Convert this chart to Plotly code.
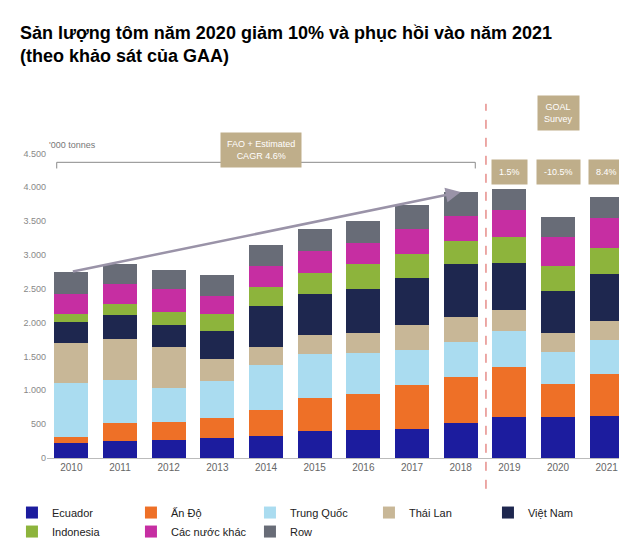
import plotly.graph_objects as go

years = ["2010", "2011", "2012", "2013", "2014", "2015", "2016", "2017", "2018", "2019", "2020", "2021"]
names = ["Ecuador", "Ấn Độ", "Trung Quốc", "Thái Lan", "Việt Nam", "Indonesia", "Các nước khác", "Row"]
colors = ["#1c1c9e", "#ee7027", "#aadcf0", "#c8b797", "#1e274f", "#8db43c", "#c62ea2", "#686c77"]

ecuador = [220, 250, 270, 290, 330, 400, 420, 430, 510, 600, 610, 620]
an_do = [90, 260, 260, 300, 380, 490, 520, 650, 680, 750, 490, 620]
trung_quoc = [800, 640, 510, 550, 660, 640, 610, 510, 530, 520, 460, 510]
thai_lan = [590, 610, 600, 320, 270, 280, 300, 370, 370, 320, 280, 280]
viet_nam = [310, 350, 330, 420, 600, 610, 650, 700, 780, 690, 630, 690]
indonesia = [120, 160, 180, 250, 280, 310, 370, 350, 340, 380, 360, 380]
khac = [300, 300, 340, 260, 310, 330, 300, 380, 370, 400, 430, 450]
row = [320, 300, 290, 320, 310, 320, 330, 350, 350, 320, 300, 310]
series = [ecuador, an_do, trung_quoc, thai_lan, viet_nam, indonesia, khac, row]
growth = ["1.5%", "-10.5%", "8.4%"]

fig = go.Figure()
for n, c, s in zip(names, colors, series):
    fig.add_trace(go.Bar(x=years, y=s, name=n, marker_color=c, marker_line_width=0))

totals = [sum(v) for v in zip(*series)]
grey = "#8a8a8a"
box = "#bfae8a"

fig.update_layout(
    barmode="stack", bargap=0.3, width=627, height=542,
    plot_bgcolor="white", paper_bgcolor="white",
    margin=dict(l=36, r=4, t=142, b=68),
    separators=",.",
    font=dict(family="Arial, Liberation Sans", color="#777"),
    xaxis=dict(tickfont=dict(size=10, color="#666"), showline=True, linecolor="#bbb", ticks=""),
    yaxis=dict(range=[0, 4550], tickvals=[0, 500, 1000, 1500, 2000, 2500, 3000, 3500, 4000, 4500],
               tickformat=",d", tickfont=dict(size=9, color="#888"), showgrid=False, showline=False),
    legend=dict(orientation="h", x=-0.06, y=-0.13, xanchor="left", yanchor="top",
                font=dict(size=11, color="#222"), traceorder="normal", itemwidth=30,
                entrywidth=74, entrywidthmode="pixels", tracegroupgap=0),
    showlegend=True,
)

anns = [
    dict(text="<b>Sản lượng tôm năm 2020 giảm 10% và phục hồi vào năm 2021<br>(theo khảo sát của GAA)</b>",
         xref="paper", yref="paper", x=-0.05, y=1.42, xanchor="left", yanchor="top", align="left",
         showarrow=False, font=dict(size=18, color="black")),
    dict(text="'000 tonnes", xref="paper", yref="paper", x=0.0, y=1.04, xanchor="left",
         showarrow=False, font=dict(size=9, color="#777")),
    dict(text="FAO + Estimated<br>CAGR 4.6%", xref="x", yref="paper", x=3.9, y=1.06,
         showarrow=False, bgcolor=box, font=dict(size=9, color="white"), borderpad=6),
    dict(text="GOAL<br>Survey", xref="x", yref="paper", x=10, y=1.18,
         showarrow=False, bgcolor=box, font=dict(size=9, color="white"), borderpad=6),
    dict(x=8, y=totals[8], ax=0, ay=totals[0], xref="x", yref="y", axref="x", ayref="y",
         text="", showarrow=True, arrowhead=2, arrowsize=1.2, arrowcolor="#9a93a8", arrowwidth=2.5),
]
for i, g in enumerate(growth):
    anns.append(dict(text=g, xref="x", yref="paper", x=9 + i, y=0.97, showarrow=False,
                     bgcolor=box, font=dict(size=9, color="white"), borderpad=7))
fig.update_layout(annotations=anns)

shapes = [
    dict(type="line", xref="x", yref="paper", x0=8.52, x1=8.52, y0=-0.1, y1=1.15,
         line=dict(color="#d9534f", width=1, dash="dash")),
    dict(type="line", xref="x", yref="paper", x0=-0.3, x1=8.3, y0=0.96, y1=0.96, line=dict(color=grey, width=1)),
    dict(type="line", xref="x", yref="paper", x0=-0.3, x1=-0.3, y0=0.96, y1=0.94, line=dict(color=grey, width=1)),
    dict(type="line", xref="x", yref="paper", x0=8.3, x1=8.3, y0=0.96, y1=0.94, line=dict(color=grey, width=1)),
    dict(type="line", xref="x", yref="paper", x0=3.9, x1=3.9, y0=0.96, y1=0.99, line=dict(color=grey, width=1)),
]
fig.update_layout(shapes=shapes)

fig.write_html("out.html")
